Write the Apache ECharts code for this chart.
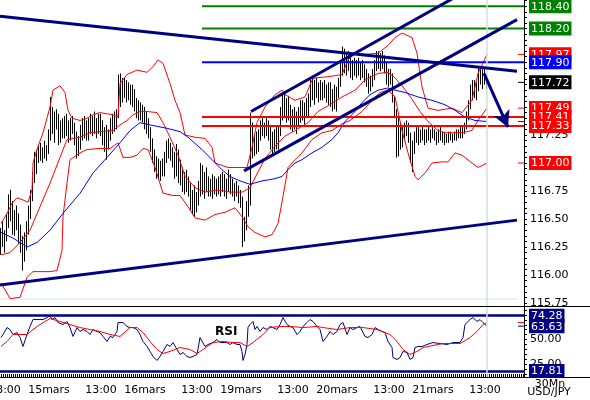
<!DOCTYPE html>
<html>
<head>
<meta charset="utf-8">
<title>USD/JPY 30Mn</title>
<style>
  html, body { margin: 0; padding: 0; background: #fff; }
  #chart { width: 590px; height: 400px; }
</style>
<script src="https://cdn.jsdelivr.net/npm/echarts@6/dist/echarts.min.js"></script>
</head>
<body>
<div id="chart"></div>
<script>
// 30 min bars from 14 mars 12:00 to 21 mars 13:30, [open, high, low, close]
const bars = [
  [116.30,116.42,116.18,116.35],[116.35,116.48,116.25,116.28],[116.28,116.40,116.20,116.38],[116.38,116.55,116.30,116.50],
  [116.50,116.72,116.42,116.62],[116.62,116.76,116.48,116.55],[116.55,116.66,116.36,116.42],[116.42,116.58,116.35,116.52],
  [116.52,116.62,116.40,116.45],[116.45,116.55,116.28,116.33],[116.33,116.45,116.20,116.25],[116.25,116.35,116.04,116.18],
  [116.18,116.38,116.12,116.32],[116.32,116.48,116.22,116.42],[116.42,116.62,116.36,116.58],[116.58,116.76,116.50,116.72],
  [116.72,116.92,116.66,116.86],[116.86,117.10,116.82,117.02],[117.02,117.12,116.90,117.06],[117.06,117.16,117.00,117.10],
  [117.10,117.18,117.02,117.06],[117.06,117.14,117.00,117.12],[117.12,117.20,117.04,117.08],[117.08,117.16,117.02,117.12],
  [117.12,117.30,117.08,117.24],[117.24,117.59,117.20,117.42],[117.42,117.50,117.26,117.32],[117.32,117.46,117.18,117.40],
  [117.40,117.48,117.30,117.36],[117.36,117.44,117.16,117.24],[117.24,117.38,117.18,117.32],[117.32,117.40,117.22,117.28],
  [117.28,117.42,117.22,117.36],[117.36,117.44,117.24,117.30],[117.30,117.38,117.18,117.26],[117.26,117.40,117.20,117.34],
  [117.34,117.42,117.26,117.30],[117.30,117.36,117.16,117.22],[117.22,117.28,117.04,117.12],[117.12,117.24,117.06,117.18],
  [117.18,117.34,117.12,117.28],[117.28,117.40,117.20,117.34],[117.34,117.42,117.22,117.30],[117.30,117.38,117.20,117.26],
  [117.26,117.40,117.20,117.36],[117.36,117.44,117.26,117.32],[117.32,117.42,117.24,117.38],[117.38,117.46,117.26,117.30],
  [117.30,117.40,117.22,117.34],[117.34,117.44,117.26,117.38],[117.38,117.44,117.24,117.28],[117.28,117.38,117.16,117.20],
  [117.20,117.32,117.10,117.26],[117.26,117.34,117.03,117.14],[117.14,117.30,117.12,117.26],[117.26,117.40,117.20,117.34],
  [117.34,117.44,117.26,117.38],[117.38,117.46,117.28,117.32],[117.32,117.48,117.30,117.44],[117.44,117.79,117.40,117.70],
  [117.70,117.80,117.50,117.62],[117.62,117.76,117.54,117.70],[117.70,117.76,117.58,117.64],[117.64,117.74,117.54,117.68],
  [117.68,117.72,117.56,117.60],[117.60,117.70,117.52,117.64],[117.64,117.70,117.50,117.56],[117.56,117.66,117.46,117.52],
  [117.52,117.58,117.40,117.46],[117.46,117.56,117.38,117.50],[117.50,117.54,117.38,117.42],[117.42,117.52,117.36,117.46],
  [117.46,117.50,117.30,117.36],[117.36,117.46,117.26,117.30],[117.30,117.40,117.22,117.28],[117.28,117.32,117.10,117.14],
  [117.14,117.22,117.00,117.04],[117.04,117.12,116.92,116.96],[116.96,117.06,116.86,116.94],[116.94,117.04,116.85,116.90],
  [116.90,117.02,116.84,116.98],[116.98,117.04,116.88,116.92],[116.92,117.10,116.88,117.06],[117.06,117.20,117.00,117.14],
  [117.14,117.22,117.04,117.10],[117.10,117.18,117.02,117.08],[117.08,117.14,116.96,117.00],[117.00,117.10,116.86,116.94],
  [116.94,117.17,116.88,117.08],[117.08,117.12,116.82,116.90],[116.90,117.03,116.80,116.86],[116.86,116.96,116.74,116.80],
  [116.80,116.92,116.72,116.84],[116.84,116.94,116.74,116.78],[116.78,116.88,116.70,116.74],[116.74,116.82,116.58,116.64],
  [116.64,116.76,116.54,116.70],[116.70,116.80,116.52,116.60],[116.60,116.74,116.56,116.68],[116.68,116.84,116.62,116.78],
  [116.78,117.00,116.70,116.90],[116.90,116.98,116.72,116.80],[116.80,116.92,116.68,116.86],[116.86,116.96,116.74,116.78],
  [116.78,116.88,116.70,116.82],[116.82,116.86,116.70,116.76],[116.76,116.90,116.68,116.84],[116.84,116.88,116.72,116.78],
  [116.78,116.86,116.70,116.80],[116.80,116.88,116.72,116.76],[116.76,116.90,116.70,116.84],[116.84,116.92,116.74,116.80],
  [116.80,116.90,116.70,116.76],[116.76,116.86,116.68,116.82],[116.82,116.94,116.74,116.86],[116.86,116.90,116.72,116.78],
  [116.78,116.86,116.70,116.74],[116.74,116.82,116.66,116.78],[116.78,116.84,116.70,116.76],[116.76,116.80,116.64,116.70],
  [116.70,116.76,116.60,116.66],[116.66,116.70,116.25,116.34],[116.34,116.52,116.30,116.46],[116.46,116.66,116.40,116.58],
  [116.58,116.80,116.52,116.72],[116.72,117.45,116.62,117.30],[117.30,117.36,117.04,117.12],[117.12,117.26,117.06,117.20],
  [117.20,117.28,117.08,117.14],[117.14,117.30,117.10,117.24],[117.24,117.38,117.20,117.32],[117.32,117.40,117.24,117.28],
  [117.28,117.36,117.22,117.34],[117.34,117.40,117.24,117.30],[117.30,117.38,117.20,117.26],[117.26,117.34,117.12,117.18],
  [117.18,117.28,117.08,117.14],[117.14,117.30,117.10,117.24],[117.24,117.32,117.12,117.16],[117.16,117.34,117.12,117.28],
  [117.28,117.50,117.24,117.44],[117.44,117.62,117.38,117.56],[117.56,117.64,117.40,117.46],[117.46,117.58,117.36,117.52],
  [117.52,117.60,117.38,117.44],[117.44,117.52,117.30,117.36],[117.36,117.48,117.28,117.42],[117.42,117.50,117.30,117.34],
  [117.34,117.46,117.26,117.40],[117.40,117.50,117.32,117.44],[117.44,117.56,117.36,117.48],[117.48,117.56,117.38,117.42],
  [117.42,117.54,117.34,117.50],[117.50,117.58,117.40,117.46],[117.46,117.62,117.42,117.56],[117.56,117.76,117.50,117.68],
  [117.68,117.78,117.56,117.62],[117.62,117.74,117.52,117.70],[117.70,117.76,117.58,117.64],[117.64,117.72,117.54,117.66],
  [117.66,117.74,117.56,117.62],[117.62,117.72,117.56,117.68],[117.68,117.74,117.58,117.64],[117.64,117.70,117.54,117.60],
  [117.60,117.72,117.52,117.66],[117.66,117.72,117.50,117.56],[117.56,117.66,117.46,117.62],[117.62,117.70,117.48,117.54],
  [117.54,117.68,117.46,117.64],[117.64,117.76,117.58,117.72],[117.72,117.90,117.68,117.84],[117.84,118.04,117.78,117.94],
  [117.94,118.02,117.80,117.86],[117.86,117.98,117.78,117.92],[117.92,118.00,117.82,117.88],[117.88,117.94,117.76,117.82],
  [117.82,117.92,117.74,117.88],[117.88,117.94,117.78,117.84],[117.84,117.92,117.76,117.90],[117.90,117.94,117.78,117.82],
  [117.82,117.90,117.74,117.86],[117.86,117.92,117.76,117.80],[117.80,117.88,117.72,117.78],[117.78,117.84,117.68,117.72],
  [117.72,117.80,117.62,117.70],[117.70,117.78,117.64,117.74],[117.74,117.84,117.68,117.80],[117.80,117.92,117.74,117.88],
  [117.88,118.00,117.82,117.94],[117.94,118.00,117.84,117.90],[117.90,117.98,117.82,117.94],[117.94,118.00,117.84,117.88],
  [117.88,117.96,117.80,117.86],[117.86,117.90,117.70,117.76],[117.76,117.84,117.68,117.80],[117.80,117.84,117.70,117.74],
  [117.74,117.80,117.54,117.58],[117.58,117.60,117.40,117.46],[117.46,117.48,117.05,117.22],[117.22,117.40,117.06,117.30],
  [117.30,117.36,117.12,117.20],[117.20,117.34,117.14,117.28],[117.28,117.36,117.20,117.30],[117.30,117.38,117.24,117.32],
  [117.32,117.36,117.18,117.22],[117.22,117.27,117.00,117.06],[117.06,117.20,116.92,117.14],[117.14,117.28,117.08,117.24],
  [117.24,117.32,117.18,117.28],[117.28,117.32,117.16,117.22],[117.22,117.30,117.18,117.26],[117.26,117.32,117.20,117.24],
  [117.24,117.30,117.16,117.22],[117.22,117.30,117.18,117.26],[117.26,117.32,117.20,117.24],[117.24,117.30,117.18,117.28],
  [117.28,117.32,117.22,117.26],[117.26,117.30,117.20,117.22],[117.22,117.28,117.16,117.24],[117.24,117.30,117.18,117.26],
  [117.26,117.32,117.20,117.24],[117.24,117.28,117.18,117.22],[117.22,117.28,117.16,117.20],[117.20,117.26,117.18,117.22],
  [117.22,117.28,117.18,117.24],[117.24,117.28,117.20,117.22],[117.22,117.26,117.18,117.24],[117.24,117.28,117.20,117.26],
  [117.26,117.30,117.20,117.24],[117.24,117.30,117.22,117.28],[117.28,117.32,117.22,117.26],[117.26,117.32,117.22,117.30],
  [117.30,117.36,117.26,117.34],[117.34,117.46,117.30,117.42],[117.42,117.56,117.38,117.52],[117.52,117.70,117.48,117.64],
  [117.64,117.74,117.56,117.70],[117.70,117.74,117.58,117.62],[117.62,117.72,117.56,117.68],[117.68,117.86,117.64,117.80],
  [117.80,117.86,117.70,117.76],[117.76,117.84,117.66,117.80],[117.80,117.84,117.70,117.74],[117.74,117.78,117.66,117.72]
];

const slotCount = 262;
const timeLabels = [
  [2, '13:00'], [24, '15mars'], [50, '13:00'], [72, '16mars'], [98, '13:00'], [120, '19mars'],
  [146, '13:00'], [168, '20mars'], [194, '13:00'], [216, '21mars'], [242, '13:00']
];
const nowSlot = 243;

// Bollinger bands and moving average, [bar, price]
const bbUpper = [
  [0,116.46],[3,116.55],[5.5,116.64],[8,116.69],[11,116.67],[13.5,116.65],[15.5,116.76],[16,117.00],[18,117.12],
  [21,117.27],[24.5,117.50],[26,117.65],[29.5,117.69],[32,117.63],[33.5,117.47],[35.5,117.40],[39.5,117.38],
  [43,117.40],[46,117.43],[49.5,117.45],[56,117.43],[58.5,117.41],[59.5,117.71],[63,117.79],[68,117.83],
  [73,117.81],[76,117.86],[78.5,117.92],[81,117.89],[84.5,117.71],[87,117.56],[89.5,117.45],[92,117.25],
  [97,117.23],[102,117.22],[105.5,117.14],[107,117.00],[113.5,116.96],[120.5,116.96],[123,116.96],[125.5,117.14],
  [128,117.36],[132,117.50],[137,117.61],[140.5,117.65],[142,117.61],[147,117.56],[152,117.59],[155.5,117.74],
  [157,117.76],[163.5,117.77],[170.5,117.79],[173.5,117.92],[177,117.98],[182,117.97],[188.5,117.98],
  [193.5,118.05],[197,118.12],[200.5,118.16],[205.5,118.12],[208,117.98],[210.5,117.68],[213.5,117.49],
  [218.5,117.47],[225.5,117.49],[230.5,117.45],[235.5,117.56],[238.5,117.80],[243,117.97]
];
const bbMiddle = [
  [0,116.18],[4.5,116.20],[9.5,116.29],[14.5,116.40],[19.5,116.61],[24.5,116.82],[29.5,117.05],[33,117.21],
  [39.5,117.23],[44.5,117.27],[49.5,117.28],[56,117.29],[59.5,117.34],[63,117.38],[66,117.43],[69.5,117.46],
  [73,117.46],[78,117.45],[81,117.36],[84.5,117.23],[88.5,117.07],[92,116.88],[97,116.78],[102,116.74],
  [108.5,116.76],[114.5,116.74],[120.5,116.74],[124.5,116.78],[128.5,116.92],[132,117.04],[137,117.15],
  [142,117.24],[147,117.29],[153.5,117.36],[158.5,117.46],[163.5,117.51],[170.5,117.59],[177,117.65],
  [182,117.74],[188.5,117.80],[193.5,117.81],[197,117.76],[200.5,117.69],[205.5,117.57],[209.5,117.46],
  [213.5,117.37],[218.5,117.29],[222,117.27],[230.5,117.27],[235.5,117.29],[238.5,117.38],[243,117.49]
];
const bbLower = [
  [0,115.93],[4.5,115.79],[9.5,115.80],[13,115.98],[16,116.03],[24.5,116.03],[28,116.04],[30.5,116.22],
  [31,116.52],[33,116.82],[34.5,117.03],[39.5,117.09],[43,117.12],[49.5,117.13],[54.5,117.13],[58.5,117.18],
  [61,117.05],[64.5,117.05],[68,117.07],[71,117.13],[73.5,117.12],[77,116.96],[81,116.73],[86,116.71],
  [89.5,116.71],[93.5,116.61],[97,116.51],[102,116.49],[107,116.54],[112,116.56],[117,116.60],[120.5,116.52],
  [123.5,116.43],[127,116.38],[132,116.34],[135.5,116.36],[138.5,116.46],[141,116.70],[143.5,116.96],
  [147,117.03],[150.5,117.09],[155.5,117.21],[160.5,117.27],[165.5,117.29],[170.5,117.35],[174.5,117.38],
  [180.5,117.46],[185.5,117.56],[189.5,117.63],[193.5,117.65],[197,117.59],[200.5,117.29],[203.5,117.09],
  [207,116.88],[208.5,116.85],[212,116.91],[215.5,117.00],[220.5,117.01],[223.5,117.01],[227,117.09],
  [230.5,117.07],[235.5,117.00],[238.5,116.96],[243,117.00]
];
const movingAvg = [
  [0,116.38],[6,116.33],[13,116.25],[18,116.29],[24.5,116.40],[31,116.55],[39.5,116.73],[46,116.91],[53,117.05],
  [59.5,117.18],[64.5,117.29],[69.5,117.36],[74.5,117.34],[83,117.31],[89.5,117.28],[93.5,117.23],[100.5,117.12],
  [105.5,117.03],[110.5,116.94],[114.5,116.88],[119.5,116.84],[124.5,116.81],[130.5,116.84],[137,116.86],
  [140.5,116.88],[143.5,116.94],[147,117.00],[150.5,117.03],[155.5,117.09],[160.5,117.14],[165.5,117.21],
  [168.5,117.27],[172,117.37],[177,117.46],[180.5,117.54],[184.5,117.61],[188.5,117.65],[193.5,117.67],
  [197,117.65],[202,117.63],[208.5,117.59],[215.5,117.56],[222,117.52],[227,117.47],[232,117.41],[237,117.38],
  [243,117.37]
];

// drawn support / resistance
const levelStart = 100.5;
const levels = [118.40, 118.20, 117.90, 117.41, 117.33];
const trendLines = [
  [[-0.5, 118.31], [258, 117.82]],
  [[-0.5, 115.91], [258, 116.49]],
  [[125, 117.46], [230, 118.51]],
  [[121.5, 116.93], [258, 118.28]]
];
const arrowPath = [[241.5, 117.80], [253.5, 117.32]];
const guideLevel = 115.785;

// RSI and its signal, [bar, value]
const rsi = [
  [0,52.0],[1,55.1],[3,62.2],[4.5,60.2],[6,55.1],[8,57.1],[9.5,52.0],[11,42.9],[13,55.1],[14.5,63.3],[16,70.4],
  [18,70.4],[19.5,70.4],[21,70.4],[23,72.4],[24.5,74.3],[25.5,70.4],[27,72.4],[28.5,67.3],[31,65.3],[33,68.4],
  [34.5,62.2],[36,53.1],[38,62.2],[39.5,58.2],[41,60.2],[43,58.2],[44.5,55.1],[46,60.2],[48,58.2],[49.5,57.1],
  [51,53.1],[53,48.0],[54.5,53.1],[56,52.0],[58,58.2],[58.5,67.3],[59.5,68.4],[61,67.3],[63,63.3],[64.5,62.2],
  [66,62.2],[68,60.2],[69.5,55.1],[71,48.0],[73,42.9],[74.5,37.8],[76,32.7],[78,28.6],[79.5,32.7],[81,37.8],
  [83,44.9],[84.5,42.9],[86,46.9],[88,39.8],[89.5,34.7],[91,36.7],[93,32.7],[94.5,31.6],[96,32.7],[98,34.7],
  [99.5,52.0],[100.5,53.1],[102,42.9],[103.5,44.9],[106,46.9],[108,50.0],[109.5,46.9],[111,46.9],[113,46.9],
  [114.5,44.9],[116,46.9],[118,44.9],[119.5,44.9],[120.5,37.8],[121,28.6],[122,34.7],[123,44.9],[123.5,62.2],
  [124.5,65.3],[126,68.4],[127,60.2],[128,63.3],[129.5,58.2],[131,62.2],[133,60.2],[134.5,63.3],[136,62.2],
  [138,60.2],[139.5,65.3],[141,72.4],[143,65.3],[144.5,63.3],[146,62.2],[148,55.1],[149.5,58.2],[151,63.3],
  [153,67.3],[154.5,70.4],[156,68.4],[158,63.3],[159.5,60.2],[161,48.0],[163,53.1],[164.5,58.2],[166,55.1],
  [168,58.2],[169.5,65.3],[171,67.3],[173,55.1],[174.5,62.2],[176,60.2],[178,62.2],[179.5,63.3],[180.5,65.3],
  [182,53.1],[183.5,52.0],[185.5,55.1],[187,62.2],[188.5,60.2],[190.5,58.2],[192,57.1],[193.5,48.0],[195.5,41.8],
  [196,31.6],[198,29.6],[199.5,31.6],[201,37.8],[203,36.7],[204.5,29.6],[206,31.6],[207,41.8],[208.5,42.9],
  [210.5,42.9],[213,44.9],[216,46.9],[219.5,45.9],[223,44.9],[226,46.9],[229.5,46.9],[231,52.0],[232,65.3],
  [233,67.3],[234.5,70.4],[236,72.4],[238,68.4],[239.5,70.4],[241,67.3],[243,63.63]
];
const rsiSignal = [
  [0,42.9],[3,48.0],[6,55.1],[9.5,55.1],[13,55.1],[16,60.2],[19.5,65.3],[24.5,71.4],[29.5,68.4],[34.5,65.3],
  [39.5,62.2],[44.5,60.2],[49.5,58.2],[54.5,55.1],[59.5,53.1],[64.5,62.2],[68,62.2],[71,57.1],[74.5,48.0],
  [78,39.8],[81,35.7],[84.5,37.8],[89.5,41.8],[94.5,39.8],[98,35.7],[101,39.8],[106,46.9],[111,48.0],[116,46.9],
  [119.5,46.9],[123,42.9],[126,46.9],[131,55.1],[134.5,62.2],[139.5,63.3],[144.5,63.3],[151,62.2],[158,63.3],
  [161,62.2],[168,60.2],[174.5,62.2],[181,62.2],[188,60.2],[194.5,55.1],[198,48.0],[201,39.8],[204.5,34.7],
  [208,37.8],[211,41.8],[216,43.9],[221,45.9],[226,45.9],[229.5,45.9],[234.5,52.0],[238,58.2],[241,65.3],[243,67.3]
];
const rsiLevels = [74.28, 17.81];

// plain axis labels (the others sit under value boxes)
const priceLabels = [115.75, 116.00, 116.25, 116.50, 116.75, 117.25];
const rsiLabels = [25, 50];

const font = 'DejaVu Sans';
const NAVY = '#000080';
const RED = '#ff0000';
const BLUE = '#0000ff';
const GREEN = '#008000';
const levelColors = [GREEN, GREEN, BLUE, RED, RED];
const levelKeys = ['g', 'g', 'b', 'r', 'r'];

const last = arr => arr[arr.length - 1][1];
const lastClose = bars[bars.length - 1][3];
const bandEnds = [last(bbUpper), last(bbMiddle), last(bbLower)];

// value tags shown in boxes on the price axis
const priceTags = [
  ...levels.map((v, i) => ({ v, key: levelKeys[i] })),
  ...bandEnds.map(v => ({ v, key: 'r' })),
  { v: lastClose, key: 'k' }
].sort((a, b) => b.v - a.v);

const priceTicks = [];
for (let t = 115.75; t < 118.455; t += 0.05) priceTicks.push(Math.round(t * 100) / 100);
const rsiTicks = [];
for (let t = 15; t <= 80; t += 5) rsiTicks.push(t);
const slotTicks = [];
for (let i = 0; i < slotCount; i++) slotTicks.push(i);

const boxStyle = bg => ({
  backgroundColor: bg, color: '#fff', padding: [2, 2, 1, 2],
  fontSize: 11, fontFamily: font, lineHeight: 11
});

const line = (data, color, width, xi, yi, z) => ({
  type: 'line', xAxisIndex: xi, yAxisIndex: yi, data, symbol: 'none',
  lineStyle: { color, width }, silent: true, z: z || 3
});

const priceMin = 115.7232;
const priceMax = 118.4554;
const rsiMin = 11.7;
const rsiMax = 83.2;

const markerLine = {
  symbol: 'none', silent: true, label: { show: false },
  lineStyle: { color: '#cfe0e6', width: 1.5, type: 'solid' },
  data: [{ xAxis: nowSlot }]
};

const series = [
  {
    type: 'candlestick', xAxisIndex: 0, yAxisIndex: 0,
    data: bars.map(b => [b[0], b[3], b[2], b[1]]),
    barWidth: 1,
    itemStyle: { color: '#000', color0: '#000', borderColor: '#000', borderColor0: '#000', borderWidth: 1 },
    silent: true, z: 2
  },
  Object.assign(line([[-0.5, guideLevel], [258.5, guideLevel]], '#d8e4ea', 1, 1, 0, 1), { markLine: markerLine }),
  line(bbUpper, RED, 1, 1, 0),
  line(bbMiddle, RED, 1, 1, 0),
  line(bbLower, RED, 1, 1, 0),
  line(movingAvg, BLUE, 1, 1, 0),
  ...levels.map((v, i) => line([[levelStart, v], [261.5, v]], levelColors[i], 2, 1, 0, 4)),
  ...trendLines.map(t => line(t, NAVY, 3, 1, 0, 5)),
  ...bandEnds.map(v => line([[258.5, v], [261.5, v]], RED, 1, 1, 0, 5)),
  line([[258.5, last(movingAvg)], [261.5, last(movingAvg)]], BLUE, 1, 1, 0, 5),
  line([[258.5, lastClose], [261.5, lastClose]], '#000', 1, 1, 0, 5),
  {
    type: 'line', xAxisIndex: 1, yAxisIndex: 0, data: [], z: 6,
    markLine: {
      silent: true, symbol: ['none', 'arrow'], symbolSize: [13, 16],
      label: { show: false },
      lineStyle: { color: NAVY, width: 3, type: 'solid' },
      data: [[{ coord: arrowPath[0] }, { coord: arrowPath[1] }]]
    }
  },
  // RSI panel
  Object.assign(line(rsi, NAVY, 1, 2, 2, 3), {
    markLine: {
      symbol: 'none', silent: true, label: { show: false },
      data: [
        ...rsiLevels.map(v => ({ yAxis: v, lineStyle: { color: NAVY, width: 2.5, type: 'solid' } })),
        { xAxis: nowSlot, lineStyle: { color: '#cfe0e6', width: 1.5, type: 'solid' } }
      ]
    }
  }),
  line(rsiSignal, RED, 1, 2, 2, 3),
  line([[258.5, last(rsi)], [261.5, last(rsi)]], NAVY, 1, 2, 2, 4),
  line([[258.5, last(rsiSignal)], [261.5, last(rsiSignal)]], RED, 1, 2, 2, 4)
];

const labelText = {};
timeLabels.forEach(t => { labelText[t[0]] = t[1]; });

// an extra right-hand axis that only prints boxed values
const tagAxis = (gridIndex, min, max, values, formatter, rich) => ({
  type: 'value', gridIndex, position: 'right', min, max, z: 5,
  axisLine: { show: false, onZero: false }, axisTick: { show: false }, splitLine: { show: false },
  axisLabel: { customValues: values, formatter, rich, margin: 5, showMinLabel: true, showMaxLabel: true, hideOverlap: false }
});
const rsiBox = v => '{n|' + v.toFixed(2) + '}';

const option = {
  animation: false,
  backgroundColor: '#fff',
  grid: [
    { left: 0, top: 0, width: 524, height: 306, containLabel: false, outerBoundsMode: 'none' },
    { left: 0, top: 307, width: 524, height: 70, containLabel: false, outerBoundsMode: 'none' }
  ],
  xAxis: [
    {
      type: 'category', gridIndex: 0, data: slotTicks.map(String), boundaryGap: true,
      axisLine: { show: true, onZero: false, lineStyle: { color: '#000', width: 1 } },
      axisTick: { show: false }, axisLabel: { show: false }, splitLine: { show: false }
    },
    { type: 'value', gridIndex: 0, min: -0.5, max: 261.5, show: false },
    {
      type: 'value', gridIndex: 1, min: -0.5, max: 261.5, position: 'bottom',
      axisLine: { show: true, onZero: false, lineStyle: { color: '#000', width: 1 } },
      axisTick: { show: true, inside: true, length: 3, customValues: slotTicks, lineStyle: { color: '#000', width: 1 } },
      axisLabel: {
        customValues: timeLabels.map(t => t[0]),
        formatter: v => labelText[Math.round(v)] || '',
        showMinLabel: true, showMaxLabel: true, hideOverlap: false,
        margin: 8, color: '#000', fontSize: 11, fontFamily: font
      },
      splitLine: { show: false }
    }
  ],
  yAxis: [
    {
      type: 'value', gridIndex: 0, position: 'right', min: priceMin, max: priceMax,
      axisLine: { show: true, onZero: false, lineStyle: { color: '#000', width: 1 } },
      axisTick: { show: true, inside: false, length: 3, customValues: priceTicks, lineStyle: { color: '#000' } },
      axisLabel: {
        customValues: priceLabels, formatter: v => v.toFixed(2),
        margin: 6, color: '#000', fontSize: 11, fontFamily: font
      },
      splitLine: { show: false }
    },
    tagAxis(0, priceMin, priceMax, priceTags.map(t => t.v), v => {
      const tag = priceTags.find(t => Math.abs(t.v - v) < 1e-6);
      return '{' + (tag ? tag.key : 'k') + '|' + v.toFixed(2) + '}';
    }, { g: boxStyle(GREEN), b: boxStyle(BLUE), r: boxStyle(RED), k: boxStyle('#000') }),
    {
      type: 'value', gridIndex: 1, position: 'right', min: rsiMin, max: rsiMax,
      axisLine: { show: true, onZero: false, lineStyle: { color: '#000', width: 1 } },
      axisTick: { show: true, inside: false, length: 3, customValues: rsiTicks, lineStyle: { color: '#000' } },
      axisLabel: {
        customValues: rsiLabels, formatter: v => v.toFixed(2),
        margin: 6, color: '#000', fontSize: 11, fontFamily: font
      },
      splitLine: { show: false }
    },
    tagAxis(1, rsiMin, rsiMax, rsiLevels, rsiBox, { n: boxStyle(NAVY) }),
    tagAxis(1, rsiMin, rsiMax, [last(rsi)], rsiBox, { n: boxStyle(NAVY) })
  ],
  series,
  graphic: [
    { type: 'line', silent: true, shape: { x1: 524, y1: 306.5, x2: 590, y2: 306.5 }, style: { stroke: '#000', lineWidth: 1 } },
    { type: 'line', silent: true, shape: { x1: 524, y1: 377.5, x2: 590, y2: 377.5 }, style: { stroke: '#000', lineWidth: 1 } },
    { type: 'text', silent: true, x: 215, y: 326, style: { text: 'RSI', font: 'bold 12px "DejaVu Sans"', fill: '#000' } },
    { type: 'text', silent: true, x: 550, y: 379, style: { text: '30Mn', font: '11px "DejaVu Sans"', fill: '#000', align: 'center', verticalAlign: 'top' } },
    { type: 'text', silent: true, x: 549, y: 387, style: { text: 'USD/JPY', font: '11px "DejaVu Sans"', fill: '#000', align: 'center', verticalAlign: 'top' } }
  ]
};

const chart = echarts.init(document.getElementById('chart'), null, { renderer: 'canvas' });
chart.setOption(option);
</script>
</body>
</html>
